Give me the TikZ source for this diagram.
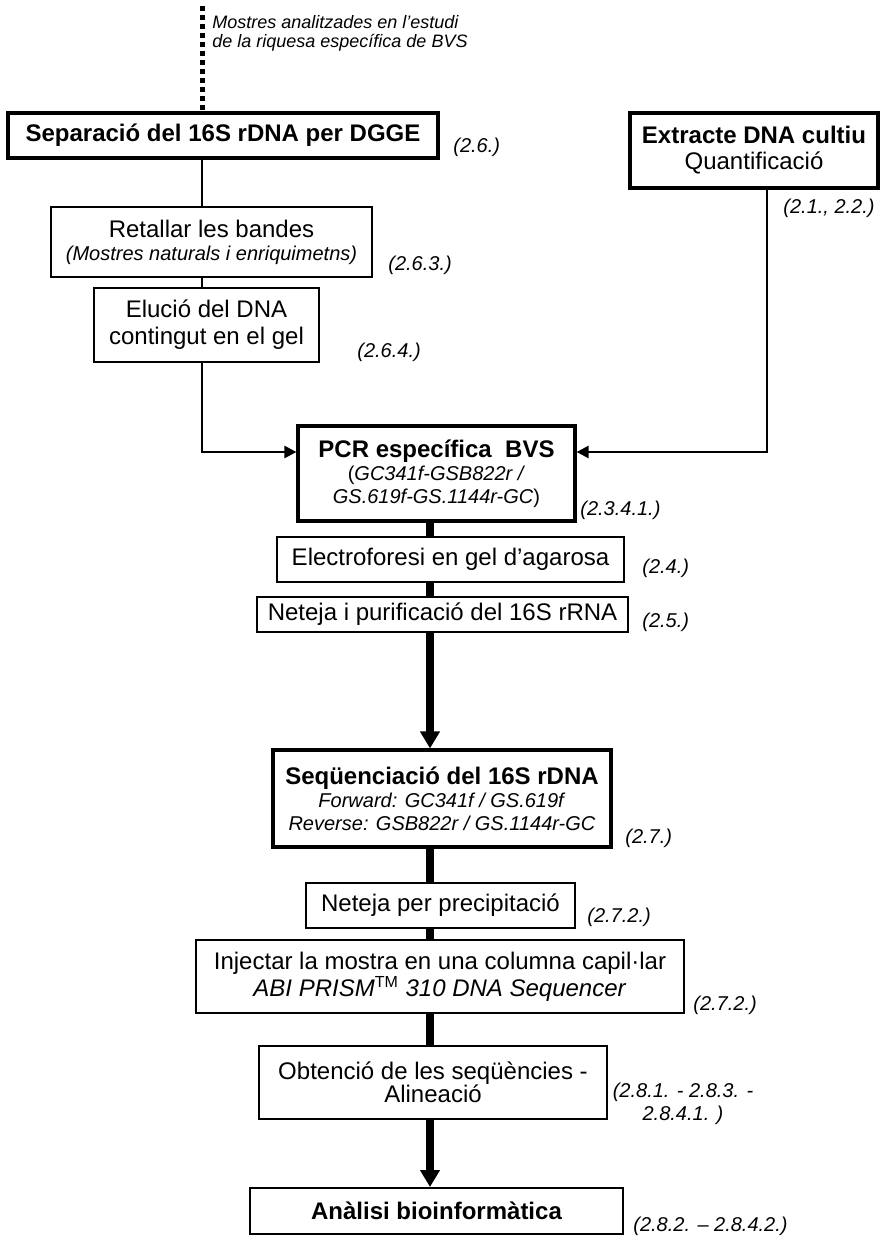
\documentclass[tikz,border=0pt]{standalone}
\usepackage{fontspec}
\setmainfont{Liberation Sans}
\usetikzlibrary{arrows.meta}
\begin{document}
\begin{tikzpicture}[x=0.5pt,y=-0.5pt,
  boxthin/.style={draw=black, line width=1pt, inner sep=0pt, align=center, fill=white},
  boxthick/.style={draw=black, line width=1.6pt, inner sep=0pt, align=center, fill=white},
  main/.style={font=\fontsize{12}{11.5}\selectfont},
  small/.style={font=\fontsize{10}{11.5}\selectfont},
  ref/.style={font=\fontsize{10}{11.5}\selectfont\itshape, inner sep=0pt, anchor=base west},
  thinline/.style={line width=1.25pt},
  thickline/.style={line width=4pt},
  thinarrow/.style={thinline, -{Triangle[length=6pt,width=6pt]}},
  thickarrow/.style={thickline, -{Triangle[length=8.5pt,width=9.5pt]}},
  dotline/.style={line width=2.5pt, dash pattern=on 2.5pt off 2pt},
]
\useasboundingbox (0,0) rectangle (880,1236);

% guide coordinates
\coordinate (lx) at (202,0);
\coordinate (rx) at (767,0);
\coordinate (mx) at (430,0);
\coordinate (ay) at (0,452);
\coordinate (dtop) at (202,6);

% boxes
\node[boxthick, main, minimum width=215pt, minimum height=22.5pt] (dgge) at (223,135.5)
  {\bfseries Separació del 16S rDNA per DGGE};
\node[boxthick, font=\fontsize{12}{13}\selectfont, minimum width=124pt, minimum height=37.5pt] (extr) at (754,150.5)
  {\textbf{Extracte DNA cultiu}\\Quantificació};
\node[boxthin, main, minimum width=160.5pt, minimum height=35pt] (retallar) at (211.5,242)
  {Retallar les bandes\\{\fontsize{10}{11.5}\selectfont\itshape (Mostres naturals i enriquimetns)}};
\node[boxthin, font=\fontsize{12}{13.5}\selectfont, minimum width=112.5pt, minimum height=37pt] (elucio) at (206.5,325)
  {Elució del DNA\\contingut en el gel};
\node[boxthick, small, minimum width=138.5pt, minimum height=47.5pt] (pcr) at (436.5,473.5)
  {{\fontsize{12}{11.5}\selectfont\bfseries PCR específica\ \ BVS}\\(\textit{GC341f-GSB822r /}\\\textit{GS.619f-GS.1144r-GC})};
\node[boxthin, main, minimum width=173.5pt, minimum height=22.5pt] (electro) at (450.5,559.5)
  {Electroforesi en gel d’agarosa};
\node[boxthin, main, minimum width=185.5pt, minimum height=17.5pt] (neteja) at (442.5,614.5)
  {Neteja i purificació del 16S rRNA};
\node[boxthick, small, minimum width=169pt, minimum height=48.5pt] (seq) at (442,798.5)
  {{\fontsize{12}{11.5}\selectfont\bfseries Seqüenciació del 16S rDNA}\\\textit{Forward: GC341f / GS.619f}\\\textit{Reverse: GSB822r / GS.1144r-GC}};
\node[boxthin, main, minimum width=134.5pt, minimum height=22.5pt] (prec) at (440.5,905.5)
  {Neteja per precipitació};
\node[boxthin, main, minimum width=244pt, minimum height=36.5pt] (inj) at (440,976.5)
  {Injectar la mostra en una columna capil·lar\\\textit{ABI PRISM\textsuperscript{\upshape TM} 310 DNA Sequencer}};
\node[boxthin, main, minimum width=174pt, minimum height=36.5pt] (obt) at (433,1082.5)
  {Obtenció de les seqüències -\\Alineació};
\node[boxthin, main, minimum width=186.5pt, minimum height=23pt] (anal) at (436.5,1211)
  {\bfseries Anàlisi bioinformàtica};

% source note
\node[font=\fontsize{9}{9.5}\selectfont\itshape, align=left, anchor=north west, inner sep=0pt] (mostres) at (212,15)
  {Mostres analitzades en l’estudi\\de la riquesa específica de BVS};

% references
\node[ref] (r1) at (453,152) {(2.6.)};
\node[ref] (r2) at (783,213) {(2.1., 2.2.)};
\node[ref] (r3) at (388,270) {(2.6.3.)};
\node[ref] (r4) at (357,357) {(2.6.4.)};
\node[ref] (r5) at (580,515) {(2.3.4.1.)};
\node[ref] (r6) at (642,573) {(2.4.)};
\node[ref] (r7) at (642,627) {(2.5.)};
\node[ref] (r8) at (625,843) {(2.7.)};
\node[ref] (r9) at (587,922) {(2.7.2.)};
\node[ref] (r10) at (693,1010) {(2.7.2.)};
\node[ref, anchor=center, align=center] (r11) at (683,1104) {(2.8.1. - 2.8.3. -\\2.8.4.1. )};
\node[ref] (r12) at (633,1231) {(2.8.2. – 2.8.4.2.)};

% connectors
\draw[dotline] (dtop) -- (dgge.north -| lx);
\draw[thinline] (dgge.south -| lx) -- (retallar.north -| lx);
\draw[thinline] (retallar.south -| lx) -- (elucio.north -| lx);
\draw[thinarrow] (elucio.south -| lx) |- (pcr.west |- ay);
\draw[thinarrow] (extr.south -| rx) |- (pcr.east |- ay);

\draw[thickline] (pcr.south -| mx) -- (electro.north -| mx);
\draw[thickline] (electro.south -| mx) -- (neteja.north -| mx);
\draw[thickarrow] (neteja.south -| mx) -- (seq.north -| mx);
\draw[thickline] (seq.south -| mx) -- (prec.north -| mx);
\draw[thickline] (prec.south -| mx) -- (inj.north -| mx);
\draw[thickline] (inj.south -| mx) -- (obt.north -| mx);
\draw[thickarrow] (obt.south -| mx) -- (anal.north -| mx);
\end{tikzpicture}
\end{document}
